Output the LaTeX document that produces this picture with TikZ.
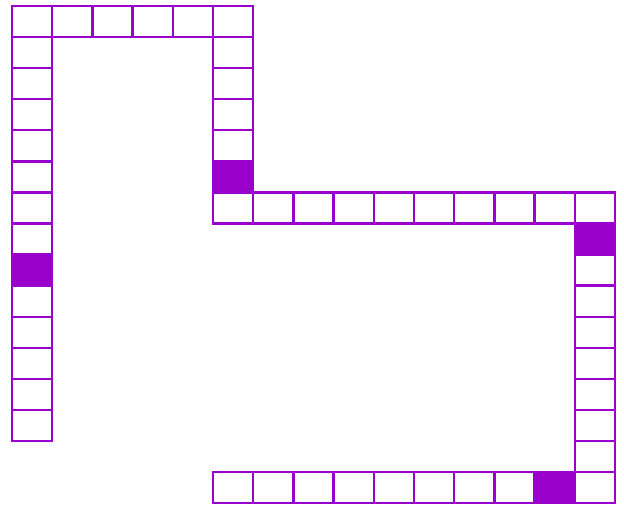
\documentclass[tikz,border=0pt]{standalone}
\usepackage{xcolor}
\usepackage{tikz}
\usetikzlibrary{positioning}
\definecolor{BoardViolet}{HTML}{9900CC}

\begin{document}
\begin{tikzpicture}[
  x=40.2pt,y=-31.07pt,
  cell/.style={draw=BoardViolet,line width=2.4pt,fill=white,minimum width=40.2pt,minimum height=31.07pt,inner sep=0pt,outer sep=0pt},
  spot/.style={cell,fill=BoardViolet}
]
\useasboundingbox (-0.2985,-0.1931) rectangle (15.224,16.157);

% top row
\foreach \i in {0,...,5}
  \node[cell] (c-\i-0) at (\i+0.5,0.5) {};
% left column
\foreach \j in {1,...,13}
  \node[cell] (c-0-\j) at (0.5,\j+0.5) {};
\node[spot] (c-0-8) at (0.5,8.5) {};
% inner column
\foreach \j in {1,...,6}
  \node[cell] (c-5-\j) at (5.5,\j+0.5) {};
\node[spot] (c-5-5) at (5.5,5.5) {};
% middle row
\foreach \i in {6,...,14}
  \node[cell] (c-\i-6) at (\i+0.5,6.5) {};
% right column
\foreach \j in {7,...,15}
  \node[cell] (c-14-\j) at (14.5,\j+0.5) {};
\node[spot] (c-14-7) at (14.5,7.5) {};
% bottom row
\foreach \i in {5,...,13}
  \node[cell] (c-\i-15) at (\i+0.5,15.5) {};
\node[spot] (c-13-15) at (13.5,15.5) {};
\end{tikzpicture}
\end{document}
